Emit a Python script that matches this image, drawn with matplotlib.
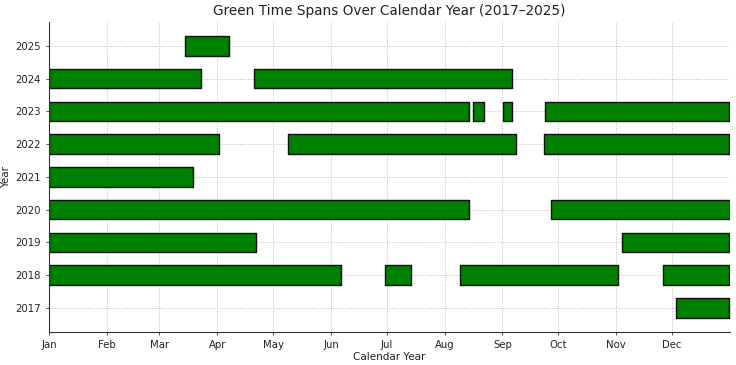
import matplotlib
matplotlib.use("Agg")
import matplotlib.pyplot as plt

# Day-of-year (0 = Jan 1) start/end of green spans per year
years = [2017, 2018, 2019, 2020, 2021, 2022, 2023, 2024, 2025]
span_starts = {
    2017: [336.3],
    2018: [0, 180.2, 220.3, 329.2],
    2019: [0, 307.0],
    2020: [0, 269.1],
    2021: [0],
    2022: [0, 128.0, 265.0],
    2023: [0, 227.1, 243.2, 266.0],
    2024: [0, 110.0],
    2025: [72.9],
}
span_ends = {
    2017: [364.2],
    2018: [156.3, 194.2, 305.2, 364.2],
    2019: [111.0, 364.2],
    2020: [225.3, 365.1],
    2021: [77.1],
    2022: [91.2, 250.3, 364.2],
    2023: [225.1, 233.2, 248.3, 364.2],
    2024: [81.2, 248.3],
    2025: [96.2],
}
month_labels = ["Jan", "Feb", "Mar", "Apr", "May", "Jun",
                "Jul", "Aug", "Sep", "Oct", "Nov", "Dec"]
month_starts = [0, 31, 59, 90, 120, 151, 181, 212, 243, 273, 304, 334]

fig = plt.figure(figsize=(7.36, 3.65), dpi=100)
ax = fig.add_axes([49.3 / 736, 1 - 331.7 / 365, (730 - 49.3) / 736, (331.7 - 22) / 365])

for y in years:
    segs = [(s, e - s) for s, e in zip(span_starts[y], span_ends[y])]
    ax.broken_barh(segs, (y - 0.3, 0.6), facecolors="green",
                   edgecolor="#111111", linewidth=1.0, zorder=2)

ax.set_xlim(0, 365)
ax.set_xticks(month_starts)
ax.set_xticklabels(month_labels)
ax.set_yticks(years)
ax.set_yticklabels([str(y) for y in years])
ax.tick_params(labelsize=7.3, length=2.5, width=0.6, colors="#333333")
for lab in ax.get_xticklabels() + ax.get_yticklabels():
    lab.set_color("#222222")
ax.grid(True, linestyle=":", color="#bbbbbb", linewidth=0.7, zorder=0)
ax.set_axisbelow(True)
ax.spines["top"].set_visible(False)
ax.spines["right"].set_visible(False)
ax.spines["left"].set_linewidth(0.8)
ax.spines["bottom"].set_linewidth(0.8)
ax.spines["left"].set_color("#333333")
ax.spines["bottom"].set_color("#333333")

ax.set_xlabel("Calendar Year", fontsize=7.5, color="#222222", labelpad=1.5)
ax.set_ylabel("Year", fontsize=7.5, color="#222222", labelpad=3)
ax.set_title("Green Time Spans Over Calendar Year (2017\u20132025)",
             fontsize=9.8, color="#222222", pad=5)

fig.savefig("out.png", dpi=100)
